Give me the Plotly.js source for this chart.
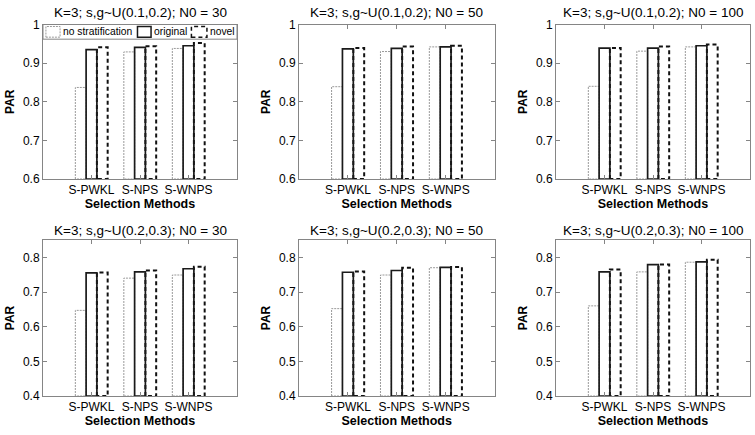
<!DOCTYPE html>
<html>
<head>
<meta charset="utf-8">
<script src="https://cdn.plot.ly/plotly-3.0.1.min.js"></script>
<style>html,body{margin:0;padding:0;background:#fff;}#chart{width:755px;height:435px;}</style>
</head>
<body>
<div id="chart"></div>
<script>
// ---- data ----
const methods = ['S-PWKL', 'S-NPS', 'S-WNPS'];
const seriesNames = ['no stratification', 'original', 'novel'];
const panelTitles = [
  'K=3; s,g~U(0.1,0.2); N0 = 30',
  'K=3; s,g~U(0.1,0.2); N0 = 50',
  'K=3; s,g~U(0.1,0.2); N0 = 100',
  'K=3; s,g~U(0.2,0.3); N0 = 30',
  'K=3; s,g~U(0.2,0.3); N0 = 50',
  'K=3; s,g~U(0.2,0.3); N0 = 100'
];
// U(0.1,0.2)
const noStrat_low_30  = [0.837, 0.929, 0.938];
const original_low_30 = [0.935, 0.941, 0.945];
const novel_low_30    = [0.941, 0.944, 0.952];
const noStrat_low_50  = [0.839, 0.930, 0.942];
const original_low_50 = [0.937, 0.938, 0.942];
const novel_low_50    = [0.939, 0.943, 0.945];
const noStrat_low_100  = [0.840, 0.931, 0.942];
const original_low_100 = [0.939, 0.939, 0.945];
const novel_low_100    = [0.939, 0.943, 0.948];
// U(0.2,0.3)
const noStrat_high_30  = [0.647, 0.740, 0.749];
const original_high_30 = [0.755, 0.758, 0.767];
const novel_high_30    = [0.756, 0.762, 0.773];
const noStrat_high_50  = [0.652, 0.749, 0.770];
const original_high_50 = [0.757, 0.762, 0.771];
const novel_high_50    = [0.759, 0.770, 0.772];
const noStrat_high_100  = [0.660, 0.758, 0.786];
const original_high_100 = [0.758, 0.779, 0.787];
const novel_high_100    = [0.765, 0.779, 0.793];

const yRangeTop = [0.6, 1];
const yRangeBottom = [0.4, 0.85];

const panels = [
  [noStrat_low_30, original_low_30, novel_low_30],
  [noStrat_low_50, original_low_50, novel_low_50],
  [noStrat_low_100, original_low_100, novel_low_100],
  [noStrat_high_30, original_high_30, novel_high_30],
  [noStrat_high_50, original_high_50, novel_high_50],
  [noStrat_high_100, original_high_100, novel_high_100]
];

// ---- styling / layout ----
const FONT = 'Liberation Sans, Arial, Helvetica, sans-serif';
const AXIS_COLOR = '#858585';
const groupWidth = 3 / 4.5;
const barW = groupWidth / 3;
const offsets = [-barW, 0, barW];
const lineStyles = [
  {color: '#9a9a9a', width: 1, dash: '2px,1px'},
  {color: '#1a1a1a', width: 1.7, dash: 'solid'},
  {color: '#111111', width: 2, dash: '4px,3px'}
];
const drawOrder = [0, 2, 1];

const W = 755, H = 435;
const colPx = [[43, 237], [299, 494.5], [556, 750]];
const rowPx = [[24.5, 179], [240, 396]];

const traces = [];
const layout = {
  width: W, height: H,
  margin: {l: 0, r: 0, t: 0, b: 0},
  paper_bgcolor: '#ffffff', plot_bgcolor: '#ffffff',
  showlegend: false,
  font: {family: FONT, size: 12, color: '#000'},
  annotations: [], shapes: []
};

panels.forEach((series, p) => {
  const r = Math.floor(p / 3), c = p % 3;
  const xa = 'xaxis' + (p === 0 ? '' : p + 1);
  const ya = 'yaxis' + (p === 0 ? '' : p + 1);
  const xr = 'x' + (p === 0 ? '' : p + 1);
  const yr = 'y' + (p === 0 ? '' : p + 1);
  const yRange = r === 0 ? yRangeTop : yRangeBottom;
  const base = yRange[0];

  drawOrder.forEach(s => {
    const xs = [], ys = [];
    series[s].forEach((v, i) => {
      const cx = i + 1 + offsets[s];
      const x0 = cx - barW / 2, x1 = cx + barW / 2;
      xs.push(x0, x0, x1, x1, x0, null);
      ys.push(base, v, v, base, base, null);
    });
    traces.push({
      type: 'scatter', mode: 'lines', x: xs, y: ys,
      xaxis: xr, yaxis: yr, name: seriesNames[s],
      line: lineStyles[s], hoverinfo: 'skip', cliponaxis: false
    });
  });

  layout[xa] = {
    domain: [colPx[c][0] / W, colPx[c][1] / W],
    anchor: yr, range: [0, 4],
    tickmode: 'array', tickvals: [1, 2, 3], ticktext: methods,
    ticks: 'inside', ticklen: 4, tickcolor: AXIS_COLOR, mirror: 'ticks',
    showline: true, linecolor: AXIS_COLOR, linewidth: 1,
    showgrid: false, zeroline: false, fixedrange: true,
    tickfont: {size: 12, family: FONT, color: '#000'},
    title: {text: '<b>Selection Methods</b>', font: {size: 12.5, family: FONT, color: '#000'}, standoff: 2}
  };
  layout[ya] = {
    domain: [1 - rowPx[r][1] / H, 1 - rowPx[r][0] / H],
    anchor: xr, range: yRange, dtick: 0.1, tick0: 0,
    ticks: 'inside', ticklen: 4, tickcolor: AXIS_COLOR, mirror: 'ticks',
    showline: true, linecolor: AXIS_COLOR, linewidth: 1,
    showgrid: false, zeroline: false, fixedrange: true,
    tickfont: {size: 12, family: FONT, color: '#000'},
    title: {text: '<b>PAR</b>', font: {size: 12, family: FONT, color: '#000'}, standoff: 5}
  };
  layout.annotations.push({
    text: panelTitles[p], xref: xr + ' domain', yref: 'paper',
    x: 0.5, y: 1 - (r === 0 ? 12.5 : 231) / H, xanchor: 'center', yanchor: 'middle',
    showarrow: false, font: {size: 13.5, family: FONT, color: '#000'}
  });
});

// ---- legend (inside first panel, MATLAB-style boxed row) ----
const legY0 = 0.905, legY1 = 1.0;
layout.shapes.push({type: 'rect', xref: 'x domain', yref: 'y domain', x0: 0, x1: 1, y0: legY0, y1: legY1,
  line: {color: AXIS_COLOR, width: 1}, fillcolor: '#ffffff', layer: 'above'});
const legSym = [[0.015, 0.088], [0.487, 0.557], [0.765, 0.845]];
const legText = [0.094, 0.563, 0.850];
seriesNames.forEach((name, s) => {
  const st = lineStyles[s];
  layout.shapes.push({type: 'rect', xref: 'x domain', yref: 'y domain',
    x0: legSym[s][0], x1: legSym[s][1], y0: 0.918, y1: 0.987,
    line: {color: st.color, width: s === 0 ? 1 : 1.5, dash: st.dash}, fillcolor: 'rgba(0,0,0,0)', layer: 'above'});
  layout.annotations.push({text: name, xref: 'x domain', yref: 'y domain', x: legText[s], y: 0.952,
    xanchor: 'left', yanchor: 'middle', showarrow: false, font: {size: 10.3, family: FONT, color: '#000'}});
});

Plotly.newPlot('chart', traces, layout, {staticPlot: true, displayModeBar: false});
</script>
</body>
</html>
